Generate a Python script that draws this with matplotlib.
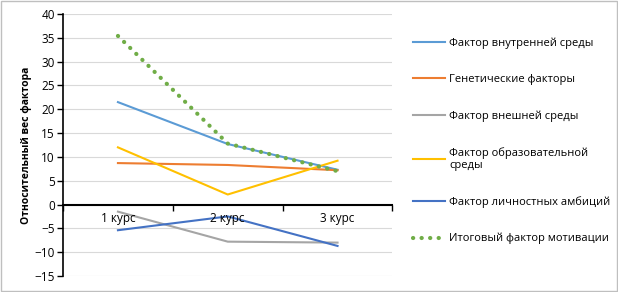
import matplotlib
matplotlib.use('Agg')
import matplotlib.pyplot as plt

courses = ["1 курс", "2 курс", "3 курс"]
internal = [21.5, 12.7, 7.3]
genetic = [8.7, 8.3, 7.2]
external = [-1.5, -7.8, -8.0]
education = [12.0, 2.1, 9.2]
ambition = [-5.4, -2.5, -8.7]
total = [35.4, 12.8, 7.0]

labels = ["Фактор внутренней среды", "Генетические факторы", "Фактор внешней среды",
          "Фактор образовательной\nсреды", "Фактор личностных амбиций",
          "Итоговый фактор мотивации"]
colors = ["#5B9BD5", "#ED7D31", "#A5A5A5", "#FFC000", "#4472C4", "#70AD47"]

plt.rcParams['font.family'] = ['Open Sans', 'DejaVu Sans']

fig = plt.figure(figsize=(6.18, 2.92), dpi=100)
ax = fig.add_axes([0.102, 0.055, 0.533, 0.897])

x = [1, 2, 3]
handles = []
for s, c, l in zip([internal, genetic, external, education, ambition], colors[:5], labels[:5]):
    h, = ax.plot(x, s, color=c, lw=1.5, label=l)
    handles.append(h)
h, = ax.plot(x, total, color=colors[5], lw=3, linestyle=(0, (0.05, 2.0)),
             dash_capstyle='round', label=labels[5])
handles.append(h)

ax.set_xlim(0.5, 3.5)
ax.set_ylim(-15, 40)
ax.set_yticks(range(-15, 41, 5))
ax.tick_params(axis='y', labelsize=8.5, length=4, width=1, colors='black', pad=2)
ax.yaxis.grid(True, color='#D9D9D9', lw=0.8)
ax.set_axisbelow(True)
for sp in ['top', 'right']:
    ax.spines[sp].set_visible(False)
ax.spines['left'].set_linewidth(1.2)
ax.spines['bottom'].set_position(('data', 0))
ax.spines['bottom'].set_linewidth(1.5)

ax.set_xticks([0.5, 1.5, 2.5, 3.5])
ax.set_xticklabels([])
ax.tick_params(axis='x', length=4, width=1)
for xi, t in zip(x, courses):
    ax.text(xi, -1.5, t, ha='center', va='top', fontsize=8.5)

ax.set_ylabel("Относительный вес фактора", fontsize=7.5, fontweight='bold', labelpad=2)

leg = fig.legend(handles=handles, labels=labels, loc='upper left',
                 bbox_to_anchor=(0.652, 0.905), frameon=False, fontsize=8,
                 handlelength=2.9, handletextpad=0.35, labelspacing=2.25)

fig.patches.append(plt.Rectangle((0.001, 0.002), 0.997, 0.995, transform=fig.transFigure,
                                 fill=False, edgecolor='#BFBFBF', lw=1))
fig.savefig("out.png", dpi=100)
